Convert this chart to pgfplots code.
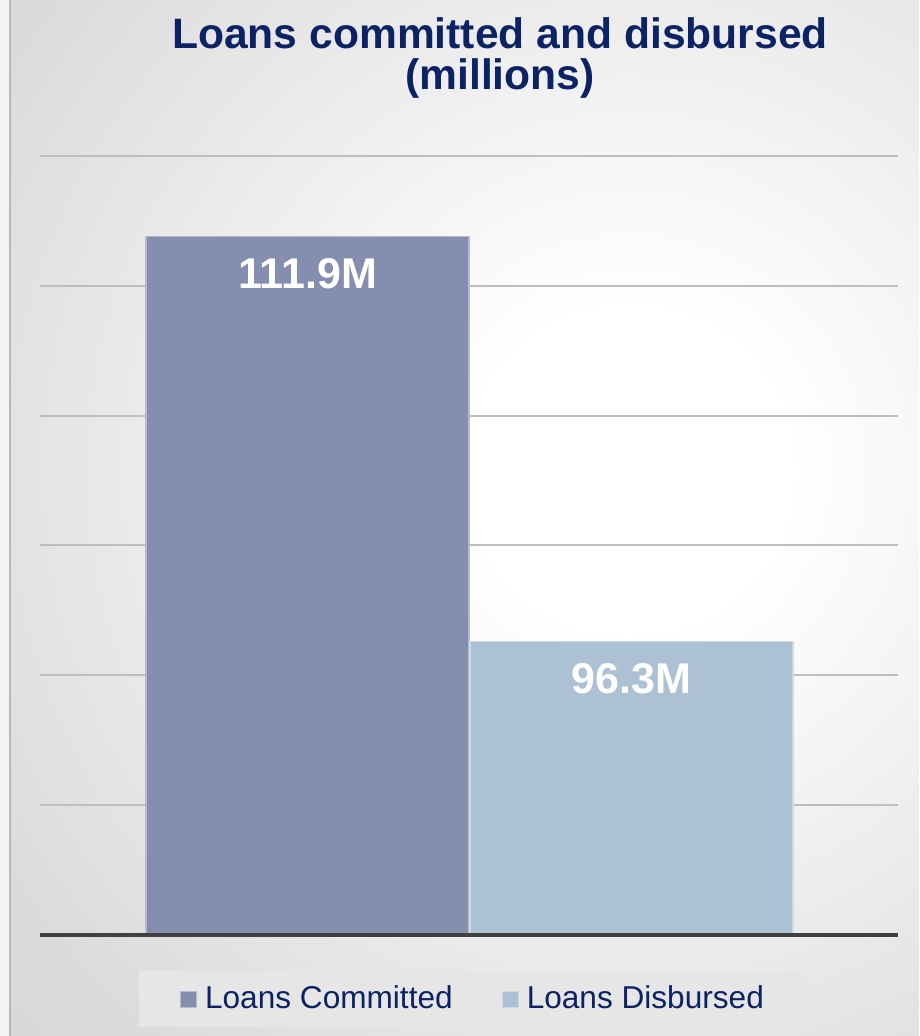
\documentclass[border=0pt]{standalone}
\usepackage{pgfplots}
\pgfplotsset{compat=1.18}
\usepackage{fontspec}
\setmainfont{Liberation Sans}
\definecolor{navy}{RGB}{11,34,100}
\definecolor{cbar}{RGB}{134,142,176}
\definecolor{dbar}{RGB}{172,193,212}
\definecolor{bgA}{RGB}{218,218,218}
\definecolor{bgB}{RGB}{198,198,198}
\definecolor{gridc}{RGB}{190,190,190}
\definecolor{basec}{RGB}{64,64,64}
\definecolor{legbg}{RGB}{230,230,230}
\definecolor{edgec}{RGB}{185,185,185}
\pgfdeclareradialshading{bgshade}{\pgfpoint{0bp}{0bp}}{color(0bp)=(white); color(4bp)=(white); color(19bp)=(bgA); color(38bp)=(bgB); color(50bp)=(bgB)}
\begin{document}
\begin{tikzpicture}
\begin{scope}[x=0.5pt,y=-0.5pt,shift={(-20pt,467.5pt)}]
\useasboundingbox (0,0) rectangle (919,1036);
\clip (0,0) rectangle (919,1036);
\shade[shading=bgshade] (630,470) circle (1000);
\fill[white!92!gray] (0,0) rectangle (10,1036);
\draw[edgec, line width=1pt] (10,0) -- (10,1036);
\node[anchor=base, text=navy, font=\fontsize{21.3}{22}\selectfont\bfseries, inner sep=0pt] at (500,49) {Loans committed and disbursed};
\node[anchor=base, text=navy, font=\fontsize{21.3}{22}\selectfont\bfseries, inner sep=0pt] at (500,90) {(millions)};
\end{scope}
\begin{axis}[
  at={(0,0)}, anchor=south west,
  scale only axis, width=429pt, height=389.5pt,
  xmin=-0.8256, xmax=1.8225,
  ymin=85, ymax=115,
  ytick={85,90,95,100,105,110,115},
  yticklabels={}, yticklabel style={opacity=0}, xtick=\empty,
  ymajorgrids, major grid style={gridc, line width=1pt},
  major tick length=0pt,
  axis line style={draw=none},
  clip mode=individual,
  legend columns=2,
  legend image code/.code={\draw[#1, line width=0.5pt] (0pt,-4pt) rectangle (8pt,4pt);},
  legend style={at={(0.5035,-0.0822)}, anchor=center, draw=none, fill=legbg,
    text=navy, font=\fontsize{15.8}{18}\selectfont,
    inner xsep=20.5pt, inner ysep=7.3pt,
    nodes={inner sep=0pt},
    /tikz/every even column/.append style={column sep=24.5pt},
    /tikz/every odd column/.append style={column sep=4pt}},
  nodes near coords align={anchor=north},
  every node near coord/.append style={yshift=-10.5pt, inner sep=0pt, text=white, font=\fontsize{21.5}{22}\selectfont\bfseries},
]
\addplot[ybar, bar width=0.997, bar shift=0pt, fill=cbar, draw=white!40!cbar, line width=0.75pt,
  nodes near coords, point meta=explicit symbolic] coordinates {(0,111.9) [111.9M]};
\addlegendentry{Loans Committed}
\addplot[ybar, bar width=0.997, bar shift=0pt, fill=dbar, draw=white!40!dbar, line width=0.75pt,
  nodes near coords, point meta=explicit symbolic] coordinates {(1,96.3) [96.3M]};
\addlegendentry{Loans Disbursed}
\draw[basec, line width=1.7pt] (axis cs:-0.8256,85) -- (axis cs:1.8225,85);
\end{axis}
\end{tikzpicture}
\end{document}
